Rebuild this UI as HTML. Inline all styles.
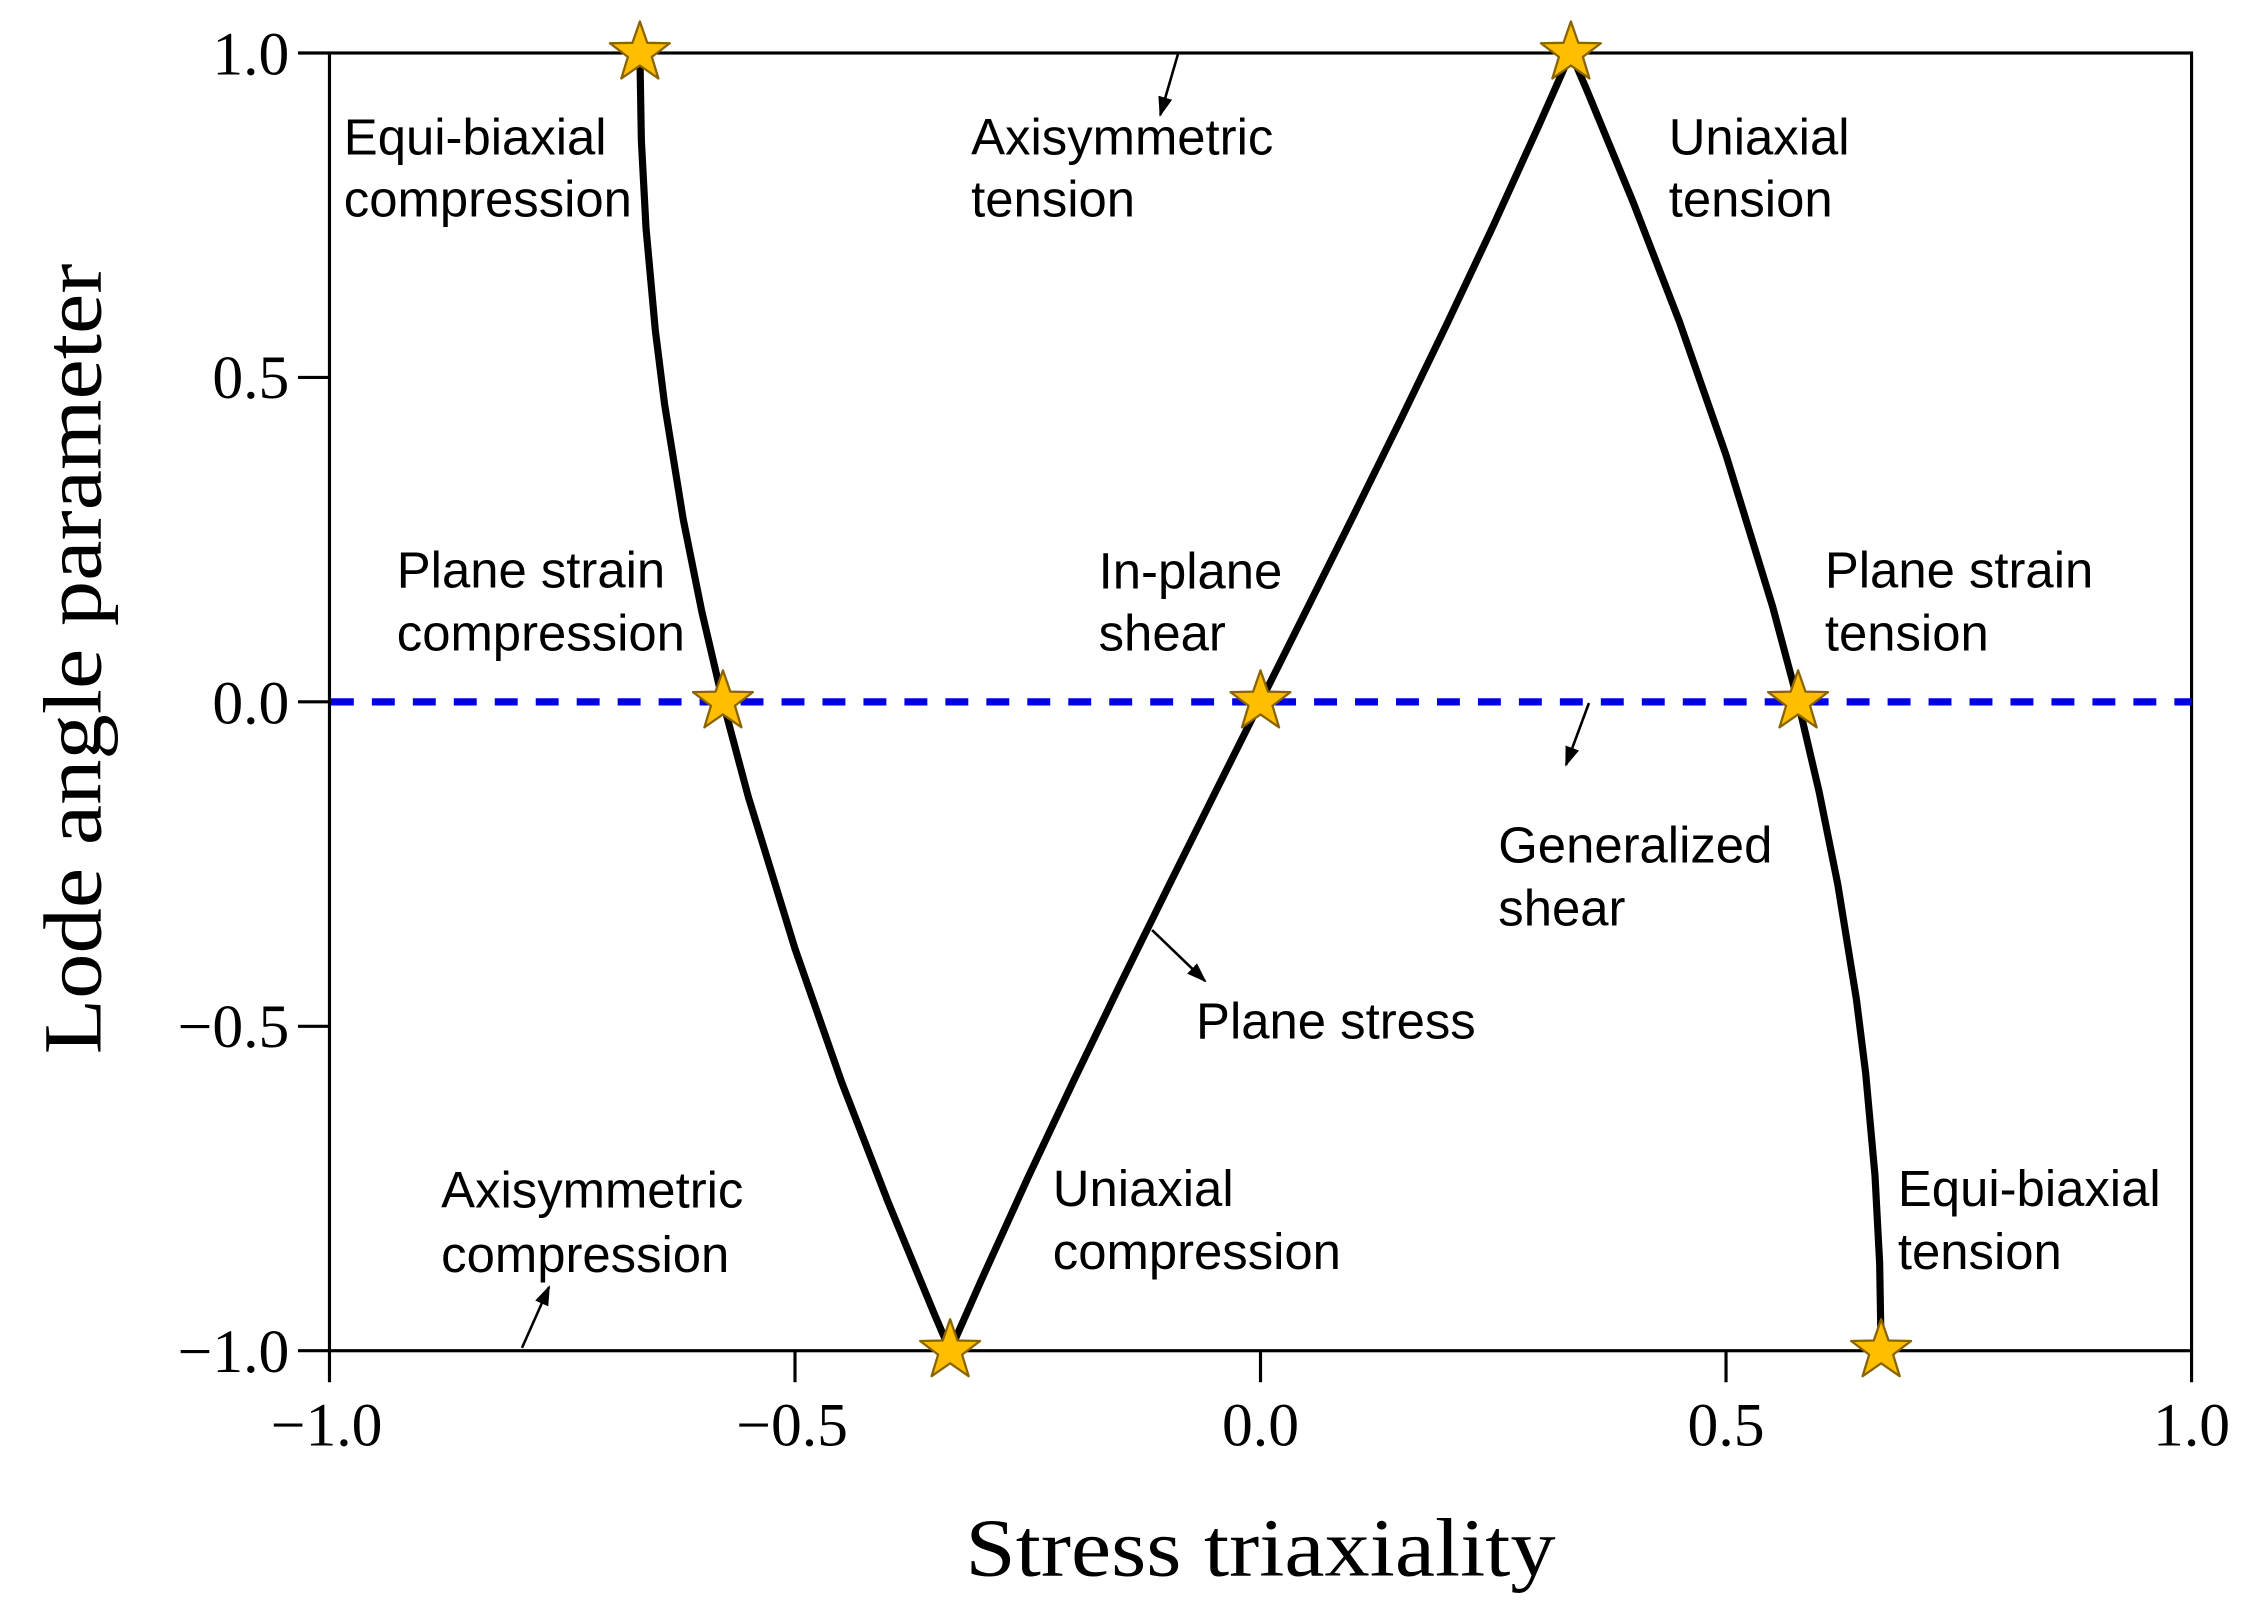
<!DOCTYPE html>
<html><head><meta charset="utf-8"><style>
html,body{margin:0;padding:0;background:#fff;}
svg{display:block;}
.lb{font-family:"Liberation Sans",Arial,sans-serif;font-size:35.5px;fill:#000;}
.tk{font-family:"Liberation Serif","Times New Roman",serif;font-size:43px;fill:#000;}
.tt{font-family:"Liberation Serif","Times New Roman",serif;font-size:58px;fill:#000;}
</style></head><body>
<svg width="2246" height="1618" viewBox="0 0 1568 1129.6" xmlns="http://www.w3.org/2000/svg">
<defs>
<marker id="ah" viewBox="0 0 10 10" refX="9" refY="5" markerWidth="14" markerHeight="10" orient="auto" markerUnits="userSpaceOnUse" preserveAspectRatio="none">
<path d="M0,0 L10,5 L0,10 z" fill="#000"/>
</marker>
<path id="st" d="M0,-22 L5.17,-7.12 L20.92,-6.8 L8.37,2.72 L12.94,17.8 L0,8.8 L-12.94,17.8 L-8.37,2.72 L-20.92,-6.8 L-5.17,-7.12Z" fill="#FFBF00" stroke="#8a6400" stroke-width="1.6" stroke-linejoin="round"/>
</defs>
<rect width="1568" height="1129.6" fill="#fff"/>
<rect x="230" y="37" width="1300" height="906" fill="none" stroke="#000" stroke-width="2.2"/>
<g stroke="#000" stroke-width="2.2">
<line x1="208" y1="37" x2="230" y2="37"/>
<line x1="208" y1="263.5" x2="230" y2="263.5"/>
<line x1="208" y1="490" x2="230" y2="490"/>
<line x1="208" y1="716.5" x2="230" y2="716.5"/>
<line x1="208" y1="943" x2="230" y2="943"/>
<line x1="230" y1="943" x2="230" y2="965"/>
<line x1="555" y1="943" x2="555" y2="965"/>
<line x1="880" y1="943" x2="880" y2="965"/>
<line x1="1205" y1="943" x2="1205" y2="965"/>
<line x1="1530" y1="943" x2="1530" y2="965"/>
</g>
<g class="tk" text-anchor="end">
<text x="202" y="52">1.0</text>
<text x="202" y="278">0.5</text>
<text x="202" y="505">0.0</text>
<text x="202" y="731">−0.5</text>
<text x="202" y="958">−1.0</text>
</g>
<g class="tk" text-anchor="middle">
<text x="228" y="1009">−1.0</text>
<text x="553" y="1009">−0.5</text>
<text x="880" y="1009">0.0</text>
<text x="1205" y="1009">0.5</text>
<text x="1530" y="1009">1.0</text>
</g>
<text class="tt" x="880" y="1100" text-anchor="middle" textLength="412" lengthAdjust="spacingAndGlyphs">Stress triaxiality</text>
<text class="tt" transform="translate(70,460) rotate(-90)" text-anchor="middle" textLength="552" lengthAdjust="spacingAndGlyphs">Lode angle parameter</text>
<line x1="231" y1="490" x2="1530" y2="490" stroke="#0000e6" stroke-width="5" stroke-dasharray="16 12.6"/>
<polyline fill="none" stroke="#000" stroke-width="5" stroke-linejoin="round" points="446.7,37 447.75,98.1 451,159.3 457.5,230.7 464,282.5 477,362.7 490,427.2 504.7,490 522.5,556.6 555,662.3 587.5,755.3 620,839.2 652.5,917.9 659,933 663.3,943 685,893.9 717.5,822.4 750,753.6 782.5,686.3 815,620.3 847.5,555 880,490 912.5,425 945,359.7 977.5,293.7 1010,226.4 1042.5,157.6 1075,86.1 1096.7,37 1101,47 1107.5,62.1 1140,140.8 1172.5,224.7 1205,317.7 1237.5,423.4 1255.3,490 1270,552.8 1283,617.3 1296,697.5 1302.5,749.3 1309,820.7 1312.25,881.9 1313.3,943"/>
<g stroke="#000" stroke-width="1.8" fill="none" marker-end="url(#ah)">
<line x1="822.4" y1="37.7" x2="810" y2="80.3"/>
<line x1="364.4" y1="941" x2="383.3" y2="898.5"/>
<line x1="1109.3" y1="490.8" x2="1093.3" y2="534"/>
<line x1="804.3" y1="649.3" x2="841.3" y2="684.9"/>
</g>
<use href="#st" x="446.7" y="37"/>
<use href="#st" x="504.7" y="490"/>
<use href="#st" x="663.3" y="943"/>
<use href="#st" x="880" y="490"/>
<use href="#st" x="1096.7" y="37"/>
<use href="#st" x="1255.3" y="490"/>
<use href="#st" x="1313.3" y="943"/>
<g class="lb">
<text x="240" y="108">Equi-biaxial</text><text x="240" y="151">compression</text>
<text x="678" y="108">Axisymmetric</text><text x="678" y="151">tension</text>
<text x="1165" y="108">Uniaxial</text><text x="1165" y="151">tension</text>
<text x="277" y="410">Plane strain</text><text x="277" y="454">compression</text>
<text x="767" y="411">In-plane</text><text x="767" y="454">shear</text>
<text x="1274" y="410">Plane strain</text><text x="1274" y="454">tension</text>
<text x="1046" y="602">Generalized</text><text x="1046" y="646">shear</text>
<text x="835" y="725">Plane stress</text>
<text x="308" y="843">Axisymmetric</text><text x="308" y="888">compression</text>
<text x="735" y="842">Uniaxial</text><text x="735" y="886">compression</text>
<text x="1325" y="842">Equi-biaxial</text><text x="1325" y="886">tension</text>
</g>
</svg>
</body></html>
